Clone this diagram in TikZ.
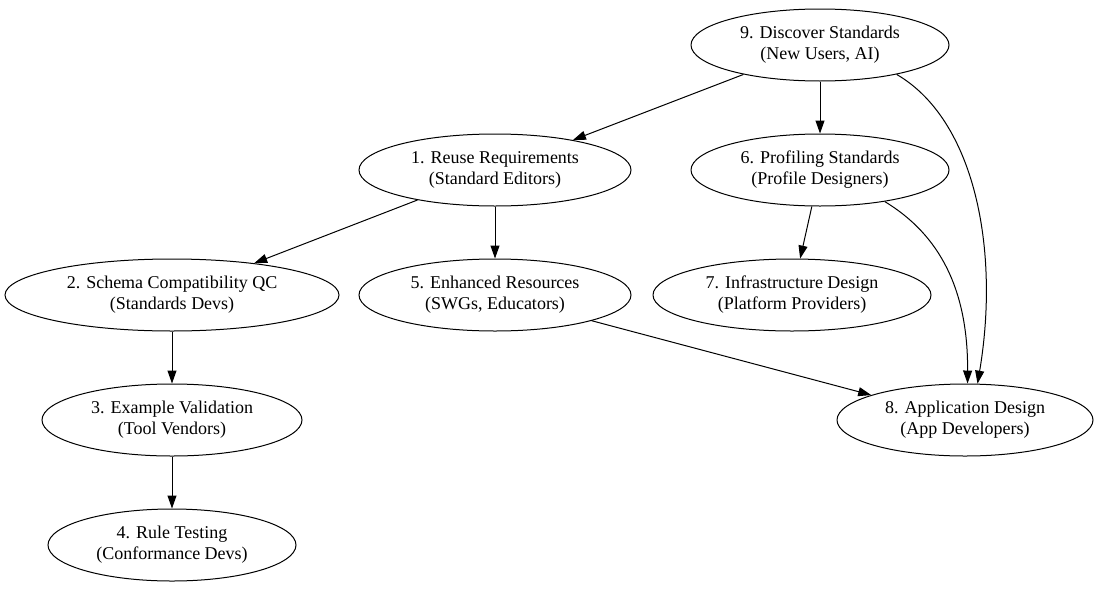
\documentclass[tikz,border=0pt]{standalone}
\usepackage{fontspec}
\setmainfont{Liberation Serif}
\usetikzlibrary{arrows.meta,shapes.geometric}

\begin{document}
\begin{tikzpicture}[x=1pt, y=-1pt,
  usecase/.style={draw, ellipse, line width=1pt, inner sep=0pt, align=center,
    minimum height=72pt, font=\fontsize{18}{21}\selectfont},
  flow/.style={-{Triangle[length=13pt,width=9pt]}, line width=1pt}]
\useasboundingbox (0,0) rectangle (1099,589);

\node [usecase, minimum width=258pt] (discover) at (820,45) {9. Discover Standards\\(New Users, AI)};
\node [usecase, minimum width=272pt] (reuse) at (495,170) {1. Reuse Requirements\\(Standard Editors)};
\node [usecase, minimum width=258pt] (profiling) at (820,170) {6. Profiling Standards\\(Profile Designers)};
\node [usecase, minimum width=334pt] (schema) at (172,295) {2. Schema Compatibility QC\\(Standards Devs)};
\node [usecase, minimum width=272pt] (resources) at (495,295) {5. Enhanced Resources\\(SWGs, Educators)};
\node [usecase, minimum width=278pt] (infra) at (792,295) {7. Infrastructure Design\\(Platform Providers)};
\node [usecase, minimum width=260pt] (example) at (172,420) {3. Example Validation\\(Tool Vendors)};
\node [usecase, minimum width=256pt] (appdesign) at (965,420) {8. Application Design\\(App Developers)};
\node [usecase, minimum width=248pt] (rules) at (172,545) {4. Rule Testing\\(Conformance Devs)};

\draw [flow] (discover) -- (reuse);
\draw [flow] (discover) -- (profiling);
\draw [flow] (discover.-21) .. controls (975,120) and (1000,250) .. (appdesign.71);
\draw [flow] (reuse) -- (schema);
\draw [flow] (reuse) -- (resources);
\draw [flow] (profiling) -- (infra);
\draw [flow] (profiling.-26) .. controls (940,235) and (968,290) .. (appdesign.86);
\draw [flow] (resources) -- (appdesign);
\draw [flow] (schema) -- (example);
\draw [flow] (example) -- (rules);
\end{tikzpicture}
\end{document}
